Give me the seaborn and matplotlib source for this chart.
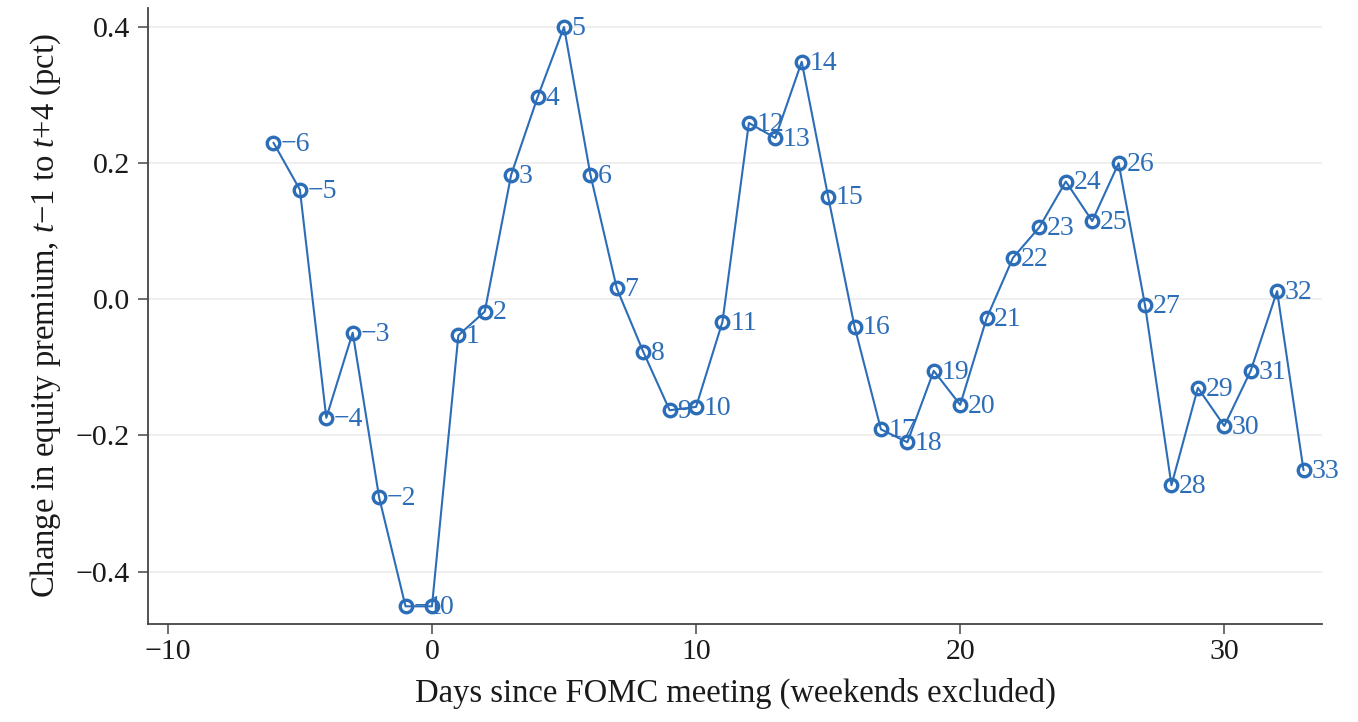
import matplotlib
matplotlib.use("Agg")
import matplotlib.pyplot as plt
import seaborn as sns
import pandas as pd

days = list(range(-6, 34))
change = [0.230, 0.161, -0.174, -0.049, -0.291, -0.451, -0.451, -0.053, -0.018, 0.183,
          0.297, 0.400, 0.183, 0.016, -0.077, -0.163, -0.158, -0.033, 0.259, 0.237,
          0.349, 0.151, -0.040, -0.191, -0.210, -0.105, -0.155, -0.028, 0.061, 0.106,
          0.173, 0.115, 0.200, -0.009, -0.273, -0.130, -0.186, -0.105, 0.012, -0.251]
labels = [str(d).replace("-", "\u2212") for d in days]
xticks = [-10, 0, 10, 20, 30]
yticks = [-0.4, -0.2, 0.0, 0.2, 0.4]

sns.set_theme(style="white")
plt.rcParams["font.family"] = ["Liberation Serif", "DejaVu Serif"]
plt.rcParams["mathtext.fontset"] = "custom"
plt.rcParams["mathtext.rm"] = "Liberation Serif"
plt.rcParams["mathtext.it"] = "Liberation Serif:italic"

color = "#2c6db8"
df = pd.DataFrame({"day": days, "change": change})

fig = plt.figure(figsize=(13.58, 7.22), dpi=100)
ax = fig.add_axes([0.109, 0.1357, 0.8645, 0.8533])
sns.lineplot(data=df, x="day", y="change", ax=ax, color=color, lw=1.5,
             marker="o", markersize=9, markerfacecolor="none",
             markeredgecolor=color, markeredgewidth=2.4)
for d, c, lab in zip(days, change, labels):
    ax.annotate(lab, (d, c), xytext=(5.5, -1), textcoords="offset points",
                va="center", ha="left", color=color, fontsize=20)

ax.set_xlim(-10.75, 33.7)
ax.set_ylim(-0.477, 0.428)
ax.set_xticks(xticks)
ax.set_yticks(yticks)
ax.set_yticklabels([f"{v:.1f}".replace("-", "\u2212") for v in yticks])
ax.set_xticklabels([str(v).replace("-", "\u2212") for v in xticks])
ax.tick_params(axis="both", labelsize=21.5, length=7, width=1.2, color="#555555",
               labelcolor="#1a1a1a", direction="out", bottom=True, left=True)
ax.tick_params(axis="y", pad=6)
ax.tick_params(axis="x", pad=4)
ax.grid(axis="y", color="#ececec", lw=1.2)
ax.grid(axis="x", visible=False)
for s in ["top", "right"]:
    ax.spines[s].set_visible(False)
for s in ["left", "bottom"]:
    ax.spines[s].set_color("#444444")
    ax.spines[s].set_linewidth(1.3)
ax.set_xlabel("Days since FOMC meeting (weekends excluded)", fontsize=23.5,
              labelpad=9, color="#1a1a1a")
ax.set_ylabel("Change in equity premium, $t$\u22121 to $t$+4 (pct)", fontsize=23.5,
              labelpad=9, color="#1a1a1a")

fig.savefig("out.png", dpi=100)
